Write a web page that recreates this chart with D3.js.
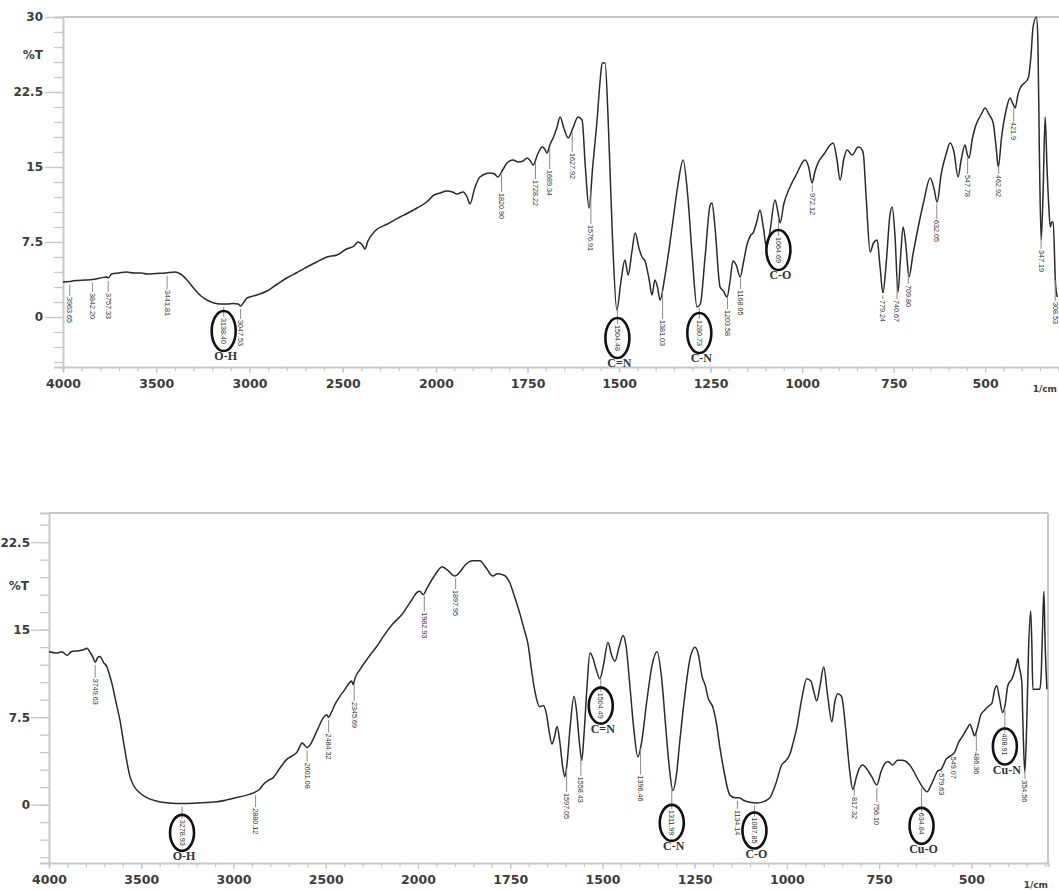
<!DOCTYPE html>
<html><head><meta charset="utf-8">
<script src="https://cdn.jsdelivr.net/npm/d3@7"></script>
<style>body{margin:0;background:#fff;} svg{display:block;}</style>
</head><body><svg id="c" width="1059" height="891"></svg>
<script>
// ---------- DATA ----------
const xMajorTicks = [4000, 3500, 3000, 2500, 2000, 1750, 1500, 1250, 1000, 750, 500];
const topYTicks = [30, 22.5, 15, 7.5, 0];
const bottomYTicks = [22.5, 15, 7.5, 0];
const yAxisTitle = "%T";
const xAxisUnit = "1/cm";

// top spectrum: [wavenumber, %T]
const topSpectrum = [
[4000,3.5],[3950,3.6],[3963,3.55],[3930,3.65],[3880,3.7],[3842,3.75],[3800,3.9],[3765,4.0],[3757,3.9],[3740,4.3],
[3700,4.4],[3660,4.5],[3620,4.4],[3580,4.4],[3550,4.3],[3500,4.35],[3450,4.4],[3400,4.5],[3370,4.3],[3335,3.7],
[3300,2.9],[3260,2.1],[3228,1.7],[3190,1.4],[3158,1.3],[3120,1.3],[3088,1.35],[3060,1.3],[3047,1.1],[3030,1.5],
[3013,1.9],[2960,2.2],[2906,2.6],[2850,3.3],[2800,3.9],[2750,4.4],[2692,5.0],[2640,5.5],[2585,6.0],[2531,6.2],
[2480,6.8],[2440,7.1],[2418,7.5],[2395,7.2],[2381,6.8],[2365,7.6],[2327,8.6],[2260,9.3],[2193,10.0],[2150,10.4],
[2102,10.9],[2050,11.5],[2010,12.2],[1989,12.4],[1970,12.6],[1955,12.5],[1943,12.3],[1926,12.5],[1915,12.0],[1907,11.3],
[1895,12.8],[1880,14.0],[1852,14.4],[1840,14.3],[1831,14.0],[1818,14.7],[1806,15.4],[1790,15.7],[1775,15.5],[1762,15.6],
[1751,15.9],[1742,15.6],[1735,15.2],[1722,16.3],[1710,17.0],[1703,16.8],[1697,16.4],[1688,17.3],[1680,17.9],[1670,18.9],
[1661,20.0],[1650,18.8],[1639,17.9],[1625,19.0],[1612,20.0],[1601,19.7],[1592,15.0],[1582,10.9],[1572,15.0],[1560,19.7],
[1552,23.5],[1546,25.4],[1538,25.4],[1530,20.0],[1518,8.0],[1506,0.7],[1495,3.5],[1484,5.7],[1475,4.2],[1465,6.5],
[1456,8.4],[1445,6.8],[1437,6.0],[1429,5.6],[1418,3.8],[1410,2.2],[1402,3.7],[1395,3.0],[1388,1.7],[1375,4.0],
[1355,9.0],[1340,13.0],[1325,15.7],[1312,12.0],[1300,6.0],[1287,1.0],[1278,1.3],[1265,6.0],[1251,11.2],[1246,11.4],
[1238,9.0],[1224,3.0],[1215,2.6],[1205,2.0],[1196,3.8],[1189,5.6],[1180,5.2],[1169,4.0],[1160,5.5],[1150,7.3],
[1140,8.2],[1134,8.4],[1124,9.5],[1115,10.7],[1106,9.0],[1097,7.0],[1088,8.5],[1074,11.7],[1066,10.5],[1060,9.4],
[1050,11.3],[1033,13.0],[1015,14.3],[992,15.7],[982,15.0],[973,13.4],[965,14.5],[959,15.2],[940,16.3],[915,17.4],
[905,15.8],[896,13.7],[886,15.8],[877,16.7],[863,16.2],[847,17.0],[840,16.9],[833,16.4],[825,12.0],[814,6.5],
[805,7.4],[795,7.7],[787,5.0],[779,2.4],[770,5.5],[760,10.2],[754,11.0],[746,8.0],[738,2.5],[731,6.0],
[724,9.0],[716,7.0],[708,4.0],[697,6.3],[686,8.4],[668,11.5],[650,13.9],[640,12.9],[631,11.5],[620,14.3],
[605,16.5],[596,17.4],[585,16.5],[574,14.0],[565,15.8],[555,17.2],[549,16.3],[544,15.9],[535,17.8],[527,19.0],
[510,20.3],[500,20.9],[490,20.3],[478,19.4],[470,17.0],[464,15.0],[455,18.0],[442,20.8],[432,21.9],[425,21.4],
[418,20.9],[410,22.3],[404,22.9],[382,23.9],[375,26.0],[369,29.0],[360,30.0],[356,28.0],[352,17.0],[347,7.7],
[342,12.0],[336,20.0],[331,15.0],[326,11.0],[322,9.0],[318,9.5],[314,9.5],[308,3.5],[303,2.0]
].sort((a,b)=>b[0]-a[0]);

// bottom spectrum: [wavenumber, %T]
const bottomSpectrum = [
[4000,13.1],[3960,13.0],[3930,13.1],[3902,12.8],[3880,13.1],[3840,13.2],[3810,13.3],[3794,13.4],[3775,13.0],[3761,12.6],
[3749,12.2],[3737,12.6],[3724,12.7],[3705,12.2],[3686,11.8],[3670,11.0],[3659,10.4],[3640,9.0],[3615,7.2],[3590,4.8],
[3561,2.4],[3540,1.6],[3507,1.0],[3470,0.6],[3415,0.3],[3350,0.15],[3274,0.1],[3200,0.15],[3089,0.25],[3000,0.55],
[2911,0.9],[2880,1.1],[2860,1.3],[2840,1.7],[2810,2.1],[2786,2.3],[2750,3.1],[2710,3.9],[2680,4.2],[2656,4.5],
[2640,5.0],[2629,5.3],[2615,5.1],[2601,4.9],[2585,5.1],[2569,5.6],[2540,6.6],[2515,7.4],[2495,7.7],[2484,7.5],
[2470,7.9],[2450,8.6],[2423,9.3],[2395,9.9],[2369,10.5],[2360,10.6],[2352,10.3],[2340,10.9],[2314,11.6],[2270,12.6],
[2222,13.6],[2180,14.6],[2136,15.5],[2087,16.3],[2040,17.4],[2005,18.2],[1995,18.3],[1986,18.0],[1975,18.6],[1962,19.3],
[1945,20.1],[1935,20.4],[1920,20.1],[1900,19.6],[1885,20.0],[1873,20.5],[1851,20.9],[1832,20.9],[1820,20.5],[1813,20.2],
[1805,19.8],[1797,19.6],[1785,19.8],[1770,19.7],[1760,19.5],[1751,19.0],[1740,18.0],[1724,16.4],[1712,15.0],[1702,13.8],
[1692,11.5],[1683,9.7],[1670,8.4],[1660,8.5],[1652,7.8],[1644,6.2],[1637,5.2],[1630,5.8],[1623,6.7],[1616,5.5],
[1608,3.3],[1602,2.4],[1596,3.5],[1588,6.5],[1577,9.3],[1570,8.0],[1563,5.5],[1556,3.8],[1550,6.0],[1542,10.0],
[1534,13.0],[1526,12.6],[1517,11.6],[1507,10.8],[1497,12.0],[1485,13.9],[1475,12.8],[1466,12.3],[1455,13.5],[1444,14.5],
[1436,13.6],[1425,10.0],[1415,6.5],[1404,4.1],[1393,5.5],[1380,8.8],[1365,12.0],[1352,13.1],[1340,11.0],[1328,6.5],
[1318,3.0],[1309,1.2],[1300,2.4],[1290,5.5],[1278,9.0],[1262,12.6],[1249,13.5],[1240,12.9],[1230,11.0],[1221,10.2],
[1214,9.2],[1200,8.3],[1190,6.8],[1182,5.0],[1170,2.8],[1160,1.3],[1154,0.8],[1140,0.6],[1130,0.6],[1119,0.4],
[1100,0.2],[1081,0.15],[1060,0.3],[1046,0.6],[1030,1.8],[1014,3.4],[1005,3.7],[992,4.3],[983,5.3],[973,6.6],
[960,9.0],[946,10.8],[935,10.6],[927,9.7],[919,8.9],[910,10.2],[900,11.8],[890,9.5],[878,7.1],[870,8.8],
[862,9.5],[852,9.3],[848,8.7],[840,6.3],[830,3.0],[821,1.3],[812,2.3],[805,3.0],[794,3.4],[782,3.0],
[770,2.4],[756,1.7],[745,2.8],[735,3.5],[726,3.7],[713,3.4],[700,3.8],[688,3.8],[677,3.7],[667,3.4],
[655,2.8],[645,2.2],[632,1.5],[620,1.1],[610,1.6],[600,2.3],[591,2.9],[582,3.0],[577,3.3],[568,3.9],
[555,4.2],[545,4.5],[535,5.3],[523,5.9],[510,6.6],[504,6.9],[497,6.4],[491,5.9],[484,6.5],[474,7.7],
[464,8.1],[455,8.4],[444,8.7],[437,9.8],[431,10.2],[424,9.2],[415,7.9],[408,8.6],[401,10.2],[388,10.9],
[378,12.0],[374,12.5],[370,11.8],[363,10.5],[360,7.0],[355,2.8],[350,6.5],[345,13.0],[339,16.6],[336,14.0],
[333,9.9],[325,9.9],[314,9.9],[310,11.5],[306,16.0],[303,18.3],[300,14.0],[295,9.9]
];

// peak labels: [label text, %T at which the label starts]
const topPeaks = [
["3963.65",2.0],["3842.20",2.4],["3757.33",2.4],["3441.81",2.7],["3138.40",-0.1],["3047.53",-0.3],
["1820.90",12.4],["1728.22",13.7],["1689.34",14.7],["1627.92",16.4],["1576.91",9.2],["1504.48",-0.8],
["1381.03",-0.3],["1280.73",-0.3],["1203.58",0.7],["1168.05",2.7],["1064.69",8.0],["972.12",12.4],
["779.24",1.7],["740.67",1.7],["709.80",3.2],["632.05",9.7],["547.78",14.2],["462.92",14.2],
["421.9",19.5],["347.19",6.7],["308.53",1.5]
];
// circled assignments: [peak label, group]
const topGroups = [["3138.40","O-H"],["1504.48","C=N"],["1280.73","C-N"],["1064.69","C-O"]];

const bottomPeaks = [
["3749.63",10.8],["3278.93",-1.3],["2880.12",-0.3],["2601.08",3.6],["2484.32",6.1],["2345.69",8.8],
["1982.93",16.5],["1897.95",18.4],["1597.05",1.0],["1558.43",2.4],["1504.49",9.6],["1396.46",2.5],
["1311.99",-0.45],["1134.14",-0.45],["1087.85",-1.1],["817.32",0.66],["756.10",0.15],["634.84",-0.7],
["579.63",2.7],["549.07",4.1],["486.36",4.5],["408.91",6.1],["354.56",2.1]
];
const bottomGroups = [["3278.93","O-H"],["1504.49","C=N"],["1311.99","C-N"],["1087.85","C-O"],["634.84","Cu-O"],["408.91","Cu-N"]];

// ---------- DRAWING ----------
const svg = d3.select("#c");
const FRAME = "#c8c8c8", TXT = "#3c3c3c";

function valueAt(data, wn) {
  for (let i = 0; i < data.length - 1; i++) {
    const a = data[i], b = data[i+1];
    if (wn <= a[0] && wn >= b[0]) {
      const t = (a[0] - wn) / (a[0] - b[0] || 1);
      return a[1] + t * (b[1] - a[1]);
    }
  }
  return data[data.length-1][1];
}

function drawPanel(cfg) {
  const g = svg.append("g");
  const x = d3.scaleLinear().domain([4000, 2000, cfg.xEndWn]).range([cfg.left, cfg.x2000, cfg.right]);
  const y = d3.scaleLinear().domain(cfg.yDomain).range([cfg.bottom, cfg.top]);

  // frame
  g.append("line").attr("x1", cfg.left).attr("x2", cfg.right).attr("y1", cfg.top).attr("y2", cfg.top)
    .attr("stroke", FRAME).attr("stroke-width", 2);
  g.append("line").attr("x1", cfg.right).attr("x2", cfg.right).attr("y1", cfg.top).attr("y2", cfg.bottom)
    .attr("stroke", FRAME).attr("stroke-width", 2);

  // y axis
  const yMinor = d3.range(-4.5, cfg.yDomain[1] + 0.01, 1.5);
  const yAxis = d3.axisLeft(y).tickValues(yMinor).tickSize(9).tickFormat("");
  g.append("g").attr("transform", `translate(${cfg.left},0)`).call(yAxis)
    .call(s => { s.select(".domain").attr("stroke", FRAME).attr("stroke-width", 2);
                 s.selectAll(".tick line").attr("stroke", FRAME).attr("stroke-width", 1.3); });
  const yMajor = d3.axisLeft(y).tickValues(cfg.yTicks).tickSize(18).tickPadding(cfg.yPad).tickFormat(d => d3.format("")(d));
  g.append("g").attr("transform", `translate(${cfg.left},0)`).call(yMajor)
    .call(s => { s.select(".domain").remove();
                 s.selectAll(".tick line").attr("stroke", FRAME).attr("stroke-width", 1.3);
                 s.selectAll(".tick text").attr("font-family", "DejaVu Sans").attr("font-weight", "bold")
                   .attr("font-size", 12).attr("fill", TXT); });
  g.append("text").attr("x", cfg.left - 20).attr("y", y(cfg.titleT)).attr("dy", "0.35em")
    .attr("text-anchor", "end").attr("font-family", "DejaVu Sans").attr("font-weight", "bold")
    .attr("font-size", 12).attr("fill", TXT).text(yAxisTitle);

  // x axis
  const xMinor = d3.range(4000, 2000, -100).concat(d3.range(2000, cfg.xEndWn, -50));
  const xAxis = d3.axisBottom(x).tickValues(xMinor).tickSize(4).tickFormat("");
  g.append("g").attr("transform", `translate(0,${cfg.bottom})`).call(xAxis)
    .call(s => { s.select(".domain").attr("stroke", FRAME).attr("stroke-width", 2);
                 s.selectAll(".tick line").attr("stroke", FRAME).attr("stroke-width", 1.3); });
  const xMaj = d3.axisBottom(x).tickValues(xMajorTicks).tickSize(6).tickPadding(6).tickFormat(d => d);
  g.append("g").attr("transform", `translate(0,${cfg.bottom})`).call(xMaj)
    .call(s => { s.select(".domain").remove();
                 s.selectAll(".tick line").attr("stroke", FRAME).attr("stroke-width", 1.3);
                 s.selectAll(".tick text").attr("font-family", "DejaVu Sans").attr("font-weight", "bold")
                   .attr("font-size", 12.5).attr("fill", TXT); });
  g.append("text").attr("x", cfg.unitX).attr("y", cfg.bottom + 25).attr("text-anchor", "end")
    .attr("font-family", "DejaVu Sans")
    .attr("font-weight", "bold").attr("font-size", 9).attr("fill", TXT).text(xAxisUnit);

  // spectrum
  const line = d3.line().x(d => x(d[0])).y(d => y(d[1])).curve(d3.curveMonotoneX);
  g.append("path").datum(cfg.data).attr("d", line).attr("fill", "none")
    .attr("stroke", "#2a2a2a").attr("stroke-width", 1.5).attr("stroke-linejoin", "round");

  // peak labels
  const groupMap = new Map(cfg.groups);
  cfg.peaks.forEach(([lab, tStart]) => {
    const wn = +lab;
    const px = x(wn);
    const yCurve = y(valueAt(cfg.data, wn));
    const yTop = y(tStart);
    if (yTop - 2 > yCurve + 3) {
      g.append("line").attr("x1", px).attr("x2", px).attr("y1", yCurve + 3).attr("y2", yTop - 1)
        .attr("stroke", "#8a8a8a").attr("stroke-width", 1);
    }
    g.append("text").attr("transform", `translate(${px},${yTop}) rotate(90)`)
      .attr("dy", "0.35em").attr("text-anchor", "start")
      .attr("font-family", "Liberation Sans").attr("font-size", 7.2).attr("fill", "#333").text(lab);
    if (groupMap.has(lab)) {
      const cy = yTop + 13;
      g.append("ellipse").attr("cx", px).attr("cy", cy).attr("rx", cfg.rx).attr("ry", cfg.ry)
        .attr("fill", "none").attr("stroke", "#111").attr("stroke-width", 2.6);
      g.append("text").attr("x", px + 2).attr("y", cy + cfg.ry + 9).attr("text-anchor", "middle")
        .attr("font-family", "Liberation Serif").attr("font-weight", "bold").attr("font-size", 12)
        .attr("fill", "#333").text(groupMap.get(lab));
    }
  });
}

drawPanel({
  left: 63, x2000: 436, right: 1062, xEndWn: 290, top: 17, bottom: 367, yDomain: [-5, 30],
  yTicks: topYTicks, titleT: 26.25, data: topSpectrum, peaks: topPeaks, groups: topGroups,
  unitX: 1057, rx: 12, ry: 20, yPad: 2
});
drawPanel({
  left: 49, x2000: 418, right: 1048, xEndWn: 292, top: 513, bottom: 863, yDomain: [-5, 25],
  yTicks: bottomYTicks, titleT: 18.75, data: bottomSpectrum, peaks: bottomPeaks, groups: bottomGroups,
  unitX: 1048, rx: 12, ry: 18, yPad: 1
});
</script>
</body></html>
